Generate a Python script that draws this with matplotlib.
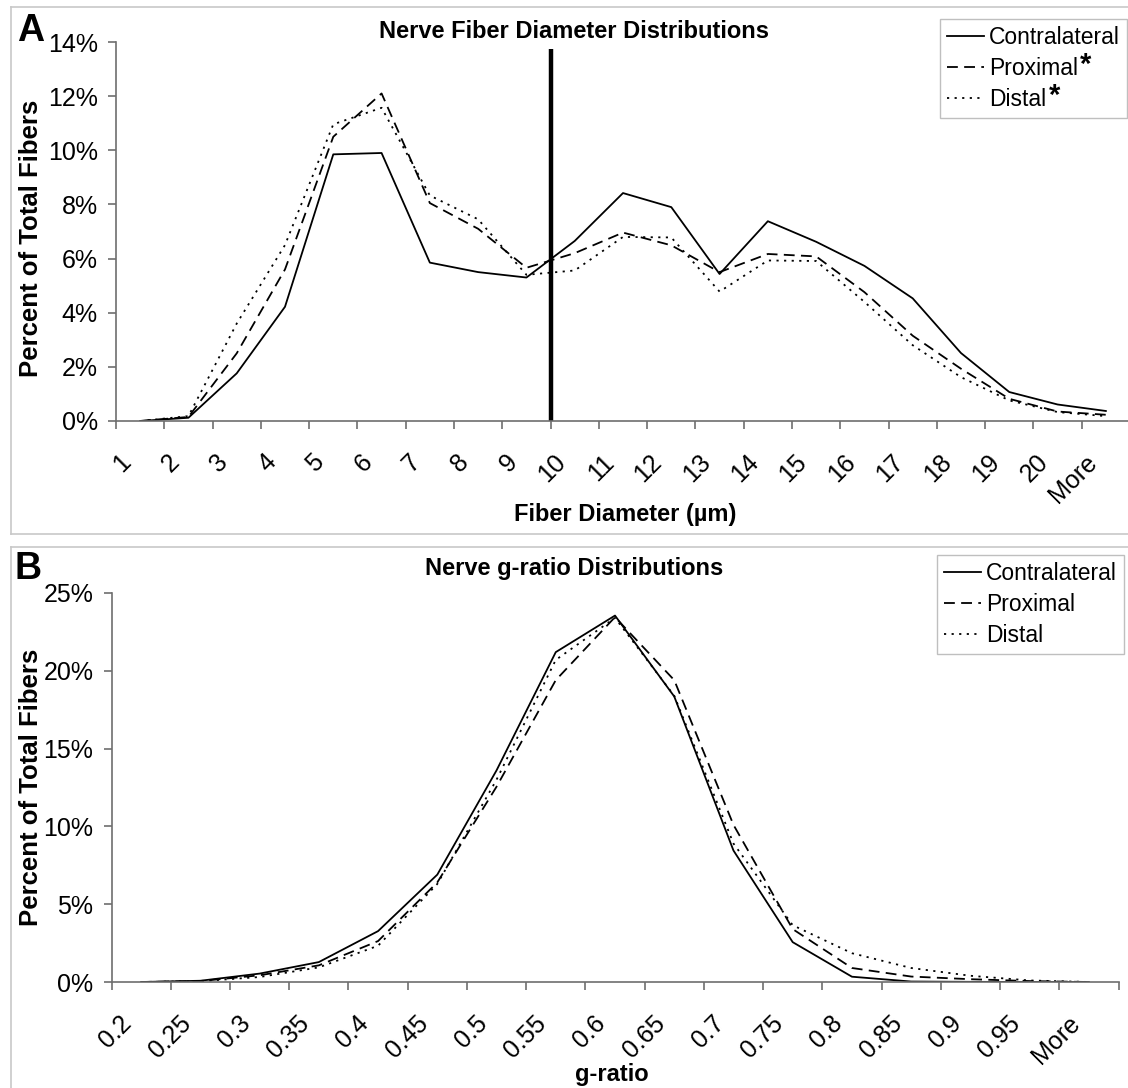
import numpy as np
import matplotlib
matplotlib.use('Agg')
import matplotlib.pyplot as plt
import matplotlib.transforms as mtransforms
from matplotlib.lines import Line2D
from matplotlib.ticker import FuncFormatter

plt.rcParams['font.family'] = ['Liberation Sans', 'DejaVu Sans']

W, H = 1128, 1088
AXIS_GREY = '#6e6e6e'
FRAME_GREY = '#c8c8c8'

# fiber diameter histogram (% of total fibers per bin)
diam_bins = ['1', '2', '3', '4', '5', '6', '7', '8', '9', '10', '11', '12', '13',
             '14', '15', '16', '17', '18', '19', '20', 'More']
diam_contra = [0.0, 0.12, 1.76, 4.22, 9.85, 9.9, 5.85, 5.5, 5.3, 6.65, 8.42, 7.9,
               5.43, 7.38, 6.62, 5.73, 4.53, 2.51, 1.07, 0.61, 0.37]
diam_prox = [0.0, 0.15, 2.5, 5.6, 10.5, 12.1, 8.05, 7.1, 5.66, 6.2, 6.96, 6.49,
             5.5, 6.17, 6.08, 4.76, 3.15, 1.93, 0.82, 0.35, 0.23]
diam_dist = [0.0, 0.18, 3.6, 6.5, 10.96, 11.57, 8.33, 7.45, 5.4, 5.56, 6.8, 6.78,
             4.78, 5.93, 5.91, 4.4, 2.8, 1.62, 0.76, 0.33, 0.18]
# large/small fiber split drawn at the start of the "10" bin
cutoff_bin = '10'
cutoff_top = 13.75
# groups significantly different from contralateral
diam_starred = ['Proximal', 'Distal']

# g-ratio histogram
g_bins = ['0.2', '0.25', '0.3', '0.35', '0.4', '0.45', '0.5', '0.55', '0.6', '0.65',
          '0.7', '0.75', '0.8', '0.85', '0.9', '0.95', 'More']
g_contra = [0.0, 0.08, 0.54, 1.28, 3.27, 6.9, 13.6, 21.2, 23.55, 18.35, 8.45, 2.56,
            0.34, 0.03, 0.01, 0.0, 0.0]
g_prox = [0.0, 0.06, 0.43, 1.07, 2.63, 6.4, 12.55, 19.4, 23.45, 19.4, 10.1, 3.4,
          0.9, 0.35, 0.18, 0.06, 0.0]
g_dist = [0.0, 0.05, 0.32, 0.94, 2.33, 6.3, 13.0, 20.7, 23.4, 18.4, 8.9, 3.65,
          1.85, 0.9, 0.4, 0.1, 0.0]

DASHED = (0, (6, 3.5))
DOTTED = (0, (1.2, 3))
TICK_FS = 18
LABEL_FS = 18.5


def fx(x):
    return x / W


def fy(y):
    return 1 - y / H


def frame_line(fig, x0, y0, x1, y1):
    fig.add_artist(Line2D([fx(x0), fx(x1)], [fy(y0), fy(y1)], transform=fig.transFigure,
                          color=FRAME_GREY, lw=1.2))


def style_axes(fig, ax, labels, ymax, ystep):
    n = len(labels)
    ax.set_xlim(-0.5, n - 0.5)
    ax.set_ylim(0, ymax)
    for side in ('top', 'right'):
        ax.spines[side].set_visible(False)
    for side in ('left', 'bottom'):
        ax.spines[side].set_color(AXIS_GREY)
        ax.spines[side].set_linewidth(1.2)
    ax.set_xticks(np.arange(n))
    ax.set_xticklabels(labels, rotation=45, ha='right', va='center', rotation_mode='anchor')
    ax.set_xticks(np.arange(n + 1) - 0.5, minor=True)
    ax.tick_params(axis='x', which='major', length=0, pad=27, labelsize=TICK_FS)
    ax.tick_params(axis='x', which='minor', length=6, width=1.2, color=AXIS_GREY)
    ax.set_yticks(np.arange(0, ymax + ystep, ystep))
    ax.yaxis.set_major_formatter(FuncFormatter(lambda v, p: f'{v:.0f}%'))
    ax.tick_params(axis='y', length=6, width=1.2, color=AXIS_GREY, pad=7, labelsize=TICK_FS)
    shift = mtransforms.ScaledTranslation(-13 / 100, 0, fig.dpi_scale_trans)
    for lab in ax.get_xticklabels():
        lab.set_transform(lab.get_transform() + shift)


def add_legend(fig, ax, right, top):
    leg = ax.legend(loc='upper right', bbox_to_anchor=(fx(right), fy(top)),
                    bbox_transform=fig.transFigure, borderaxespad=0, fontsize=16.5,
                    handlelength=1.6, handletextpad=0.25, labelspacing=0.35,
                    borderpad=0.3, fancybox=False, framealpha=1)
    leg.get_frame().set_edgecolor('#bfbfbf')
    leg.get_frame().set_linewidth(1.0)
    return leg


fig = plt.figure(figsize=(W / 100, H / 100), dpi=100)

# ---- panel A: fiber diameter ----
axA = fig.add_axes([fx(116), fy(421), 1014 / W, 379 / H])
x = np.arange(len(diam_bins))
axA.plot(x, diam_contra, color='black', lw=1.3, label='Contralateral')
axA.plot(x, diam_prox, color='black', lw=1.3, ls=DASHED, label='Proximal')
axA.plot(x, diam_dist, color='black', lw=1.3, ls=DOTTED, label='Distal')
cut = diam_bins.index(cutoff_bin) - 0.5
axA.plot([cut, cut], [0, cutoff_top], color='black', lw=3.2, solid_capstyle='butt')
style_axes(fig, axA, diam_bins, 14, 2)
legA = add_legend(fig, axA, 1127, 19)

fig.text(fx(574), fy(31), 'Nerve Fiber Diameter Distributions', fontsize=17,
         fontweight='bold', ha='center', va='center')
fig.text(fx(625), fy(514), 'Fiber Diameter (\u00b5m)', fontsize=17,
         fontweight='bold', ha='center', va='center')
fig.text(fx(31), fy(238), 'Percent of Total Fibers', fontsize=LABEL_FS, fontweight='bold',
         rotation=90, ha='center', va='center')
fig.text(fx(31), fy(31), 'A', fontsize=27, fontweight='bold', ha='center', va='center')

frame_line(fig, 11, 7, W, 7)
frame_line(fig, 11, 7, 11, 534)
frame_line(fig, 11, 534, W, 534)

# ---- panel B: g-ratio ----
axB = fig.add_axes([fx(111.5), fy(982), 1007 / W, 389 / H])
xg = np.arange(len(g_bins))
axB.plot(xg, g_contra, color='black', lw=1.3, label='Contralateral')
axB.plot(xg, g_prox, color='black', lw=1.3, ls=DASHED, label='Proximal')
axB.plot(xg, g_dist, color='black', lw=1.3, ls=DOTTED, label='Distal')
style_axes(fig, axB, g_bins, 25, 5)
add_legend(fig, axB, 1124, 555)

fig.text(fx(574), fy(569), 'Nerve g-ratio Distributions', fontsize=17,
         fontweight='bold', ha='center', va='center')
fig.text(fx(612), fy(1074), 'g-ratio', fontsize=17, fontweight='bold',
         ha='center', va='center')
fig.text(fx(31), fy(787), 'Percent of Total Fibers', fontsize=LABEL_FS, fontweight='bold',
         rotation=90, ha='center', va='center')
fig.text(fx(28), fy(569), 'B', fontsize=27, fontweight='bold', ha='center', va='center')

frame_line(fig, 11, 547, W, 547)
frame_line(fig, 11, 547, 11, H)

# bold asterisks after the starred legend entries
fig.canvas.draw()
renderer = fig.canvas.get_renderer()
for txt in legA.get_texts():
    if txt.get_text() in diam_starred:
        bb = txt.get_window_extent(renderer)
        fig.text(bb.x1 + 2, bb.y0 + 1, '*', transform=None, fontsize=21,
                 fontweight='bold', ha='left', va='bottom')

fig.savefig('out.png', dpi=100, facecolor='white')
